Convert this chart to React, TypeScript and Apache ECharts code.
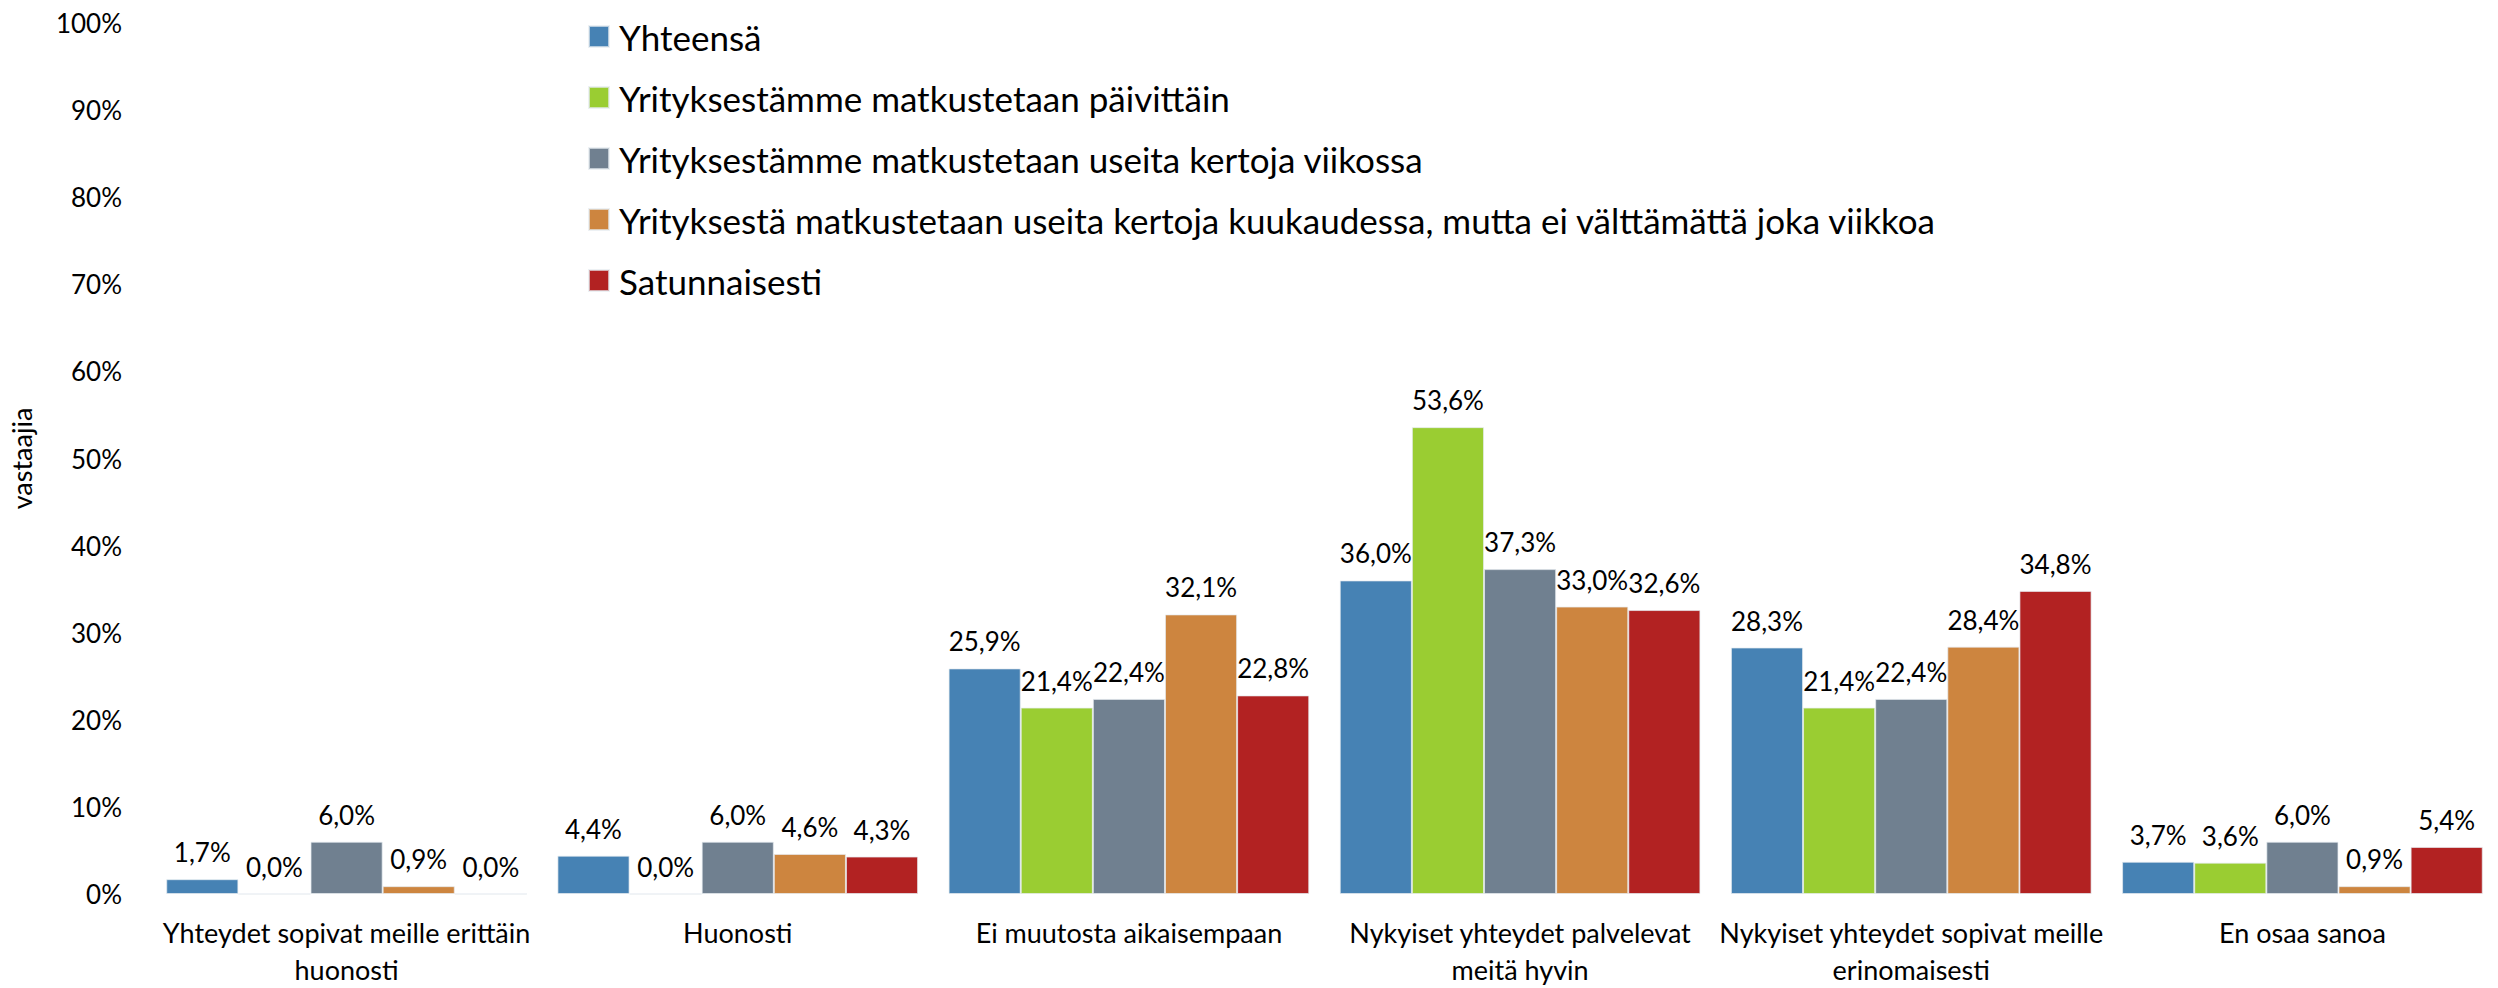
import React, { useEffect, useRef } from "react";
import * as echarts from "echarts";

const categories = [
  "Yhteydet sopivat meille erittäin\nhuonosti",
  "Huonosti",
  "Ei muutosta aikaisempaan",
  "Nykyiset yhteydet palvelevat\nmeitä hyvin",
  "Nykyiset yhteydet sopivat meille\nerinomaisesti",
  "En osaa sanoa",
];

const seriesNames = [
  "Yhteensä",
  "Yrityksestämme matkustetaan päivittäin",
  "Yrityksestämme matkustetaan useita kertoja viikossa",
  "Yrityksestä matkustetaan useita kertoja kuukaudessa, mutta ei välttämättä joka viikkoa",
  "Satunnaisesti",
];

const yhteensa = [1.7, 4.4, 25.9, 36.0, 28.3, 3.7];
const paivittain = [0.0, 0.0, 21.4, 53.6, 21.4, 3.6];
const viikossa = [6.0, 6.0, 22.4, 37.3, 22.4, 6.0];
const kuukaudessa = [0.9, 4.6, 32.1, 33.0, 28.4, 0.9];
const satunnaisesti = [0.0, 4.3, 22.8, 32.6, 34.8, 5.4];

const colors = ["#4682B4", "#9ACD32", "#708090", "#CD853F", "#B22222"];

const FONT = "Lato";

export default function App() {
  const ref = useRef<HTMLDivElement>(null);
  useEffect(() => {
    if (!ref.current) return;
    const chart = echarts.init(ref.current, null, { renderer: "svg" });
    const allData = [yhteensa, paivittain, viikossa, kuukaudessa, satunnaisesti];
    chart.setOption({
      animation: false,
      backgroundColor: "#ffffff",
      textStyle: { fontFamily: FONT, color: "#000" },
      legend: {
        orient: "vertical",
        left: 583,
        top: 11,
        itemWidth: 20,
        itemHeight: 21,
        itemGap: 20,
        icon: "rect",
        data: seriesNames,
        textStyle: {
          fontFamily: FONT,
          fontSize: 35,
          lineHeight: 41,
          color: "#000",
          padding: [0, 0, 0, 5],
        },
      },
      grid: { left: 142, width: 2358, top: 23, bottom: 88, containLabel: false },
      xAxis: {
        type: "category",
        data: categories,
        axisLine: { show: false },
        axisTick: { show: false },
        axisLabel: {
          interval: 0,
          margin: 20,
          fontFamily: FONT,
          fontSize: 27,
          lineHeight: 37,
          color: "#000",
        },
      },
      yAxis: {
        type: "value",
        min: 0,
        max: 100,
        interval: 10,
        name: "vastaajia",
        nameLocation: "middle",
        nameRotate: 90,
        nameGap: 116,
        nameTextStyle: { fontFamily: FONT, fontSize: 27, color: "#000" },
        splitLine: { show: false },
        axisLine: { show: false },
        axisTick: { show: false },
        axisLabel: {
          formatter: "{value}%",
          margin: 29,
          fontFamily: FONT,
          fontSize: 26,
          color: "#000",
        },
      },
      series: seriesNames.map((name, i) => ({
        name,
        type: "bar",
        data: allData[i],
        barGap: "0%",
        barCategoryGap: "7.8%",
        itemStyle: { color: colors[i], borderColor: "rgba(230,235,240,0.7)", borderWidth: 1 },
        label: {
          show: true,
          position: "top",
          distance: 14,
          fontFamily: FONT,
          fontSize: 26,
          color: "#000",
          formatter: (p: any) => p.value.toFixed(1).replace(".", ",") + "%",
        },
      })),
    });
    return () => chart.dispose();
  }, []);
  return (
    <div
      ref={ref}
      style={{ position: "absolute", left: 0, top: 0, width: 2498, height: 988 }}
    />
  );
}
